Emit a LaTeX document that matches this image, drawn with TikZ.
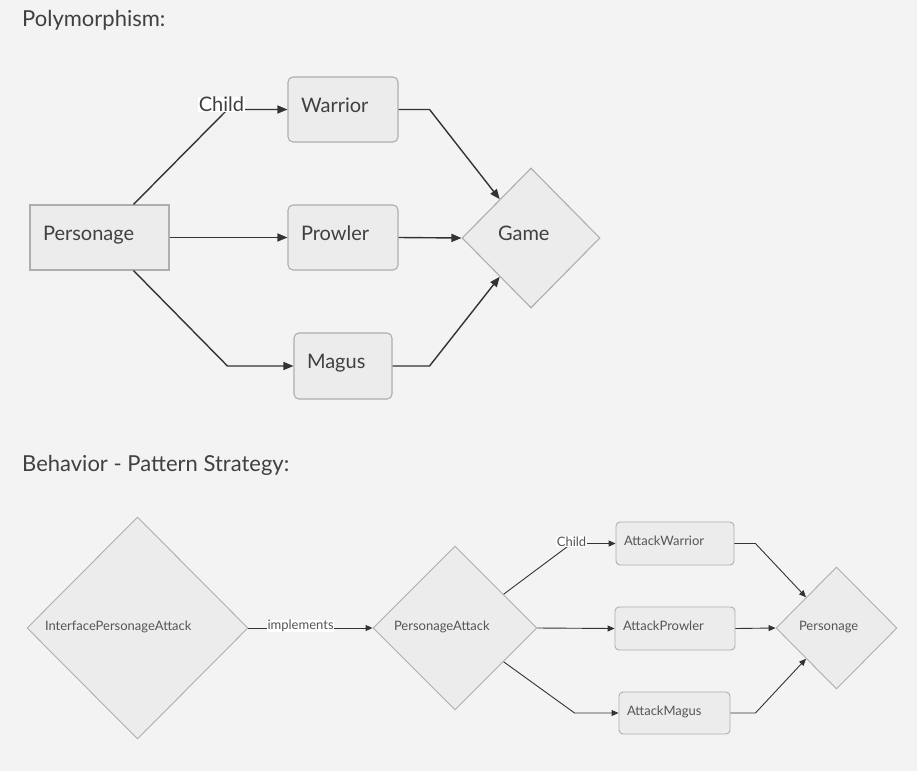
\documentclass[tikz,border=0pt]{standalone}
\usepackage{fontspec}
\setmainfont{Lato}
\usetikzlibrary{shapes.geometric,arrows.meta,calc}

\begin{document}
\begin{tikzpicture}[x=1pt, y=-1pt,
  title/.style={anchor=west, inner sep=0pt, text=txt, font=\fontsize{22}{26}\selectfont},
  bigbox/.style={draw=boxline, fill=boxfill, line width=1.1pt, rounded corners=5pt, inner xsep=13pt, inner ysep=0pt, align=left, text=txt, text depth=9pt, font=\fontsize{20}{24}\selectfont},
  bigdia/.style={diamond, draw=boxline, fill=boxfill, line width=1.1pt, inner sep=0pt, align=left, text=txt, text depth=9pt, font=\fontsize{20}{24}\selectfont},
  smallbox/.style={draw=boxline, fill=boxfill, line width=0.9pt, rounded corners=4pt, inner xsep=8pt, inner ysep=0pt, align=left, text=txt2, text depth=5pt, font=\fontsize{13}{15}\selectfont},
  smalldia/.style={diamond, draw=boxline, fill=boxfill, line width=0.9pt, inner sep=0pt, align=left, text=txt2, text depth=4pt, font=\fontsize{13}{15}\selectfont},
  bigarr/.style={draw=edge, line width=1.4pt, -{Triangle[length=10pt,width=8pt]}},
  smallarr/.style={draw=edge, line width=0.9pt, -{Triangle[length=7pt,width=6pt]}},
  biglbl/.style={fill=white, inner sep=0.5pt, text=txt, font=\fontsize{20}{24}\selectfont},
  smalllbl/.style={fill=white, inner sep=0.5pt, text=txt2, font=\fontsize{13}{15}\selectfont}
]
\definecolor{bg}{HTML}{F3F3F3}
\definecolor{boxfill}{HTML}{ECECEC}
\definecolor{boxline}{HTML}{AEAEAE}
\definecolor{edge}{HTML}{333333}
\definecolor{txt}{HTML}{404040}
\definecolor{txt2}{HTML}{555555}

\fill [bg] (0,0) rectangle (917,771);

\node [title] (t1) at (22,20) {Polymorphism:};
\node [bigbox, rounded corners=0pt, text width=113pt, minimum height=65pt] (pers) at (99.5,237.5) {Personage};
\node [bigbox, text width=84pt, minimum height=65pt] (warrior) at (343,109.5) {Warrior};
\node [bigbox, text width=84pt, minimum height=65pt] (prowler) at (343,237.5) {Prowler};
\node [bigbox, text width=72pt, minimum height=66pt] (magus) at (343,366) {Magus};
\node [bigdia, text width=66pt, minimum width=138pt, minimum height=140pt] (game) at (531,238) {Game};

\draw [bigarr] ([xshift=34pt]pers.north) -- ([xshift=-60pt]warrior.west) node [biglbl, xshift=-6pt, yshift=5pt] {Child} -- (warrior.west);
\draw [bigarr] (pers.east) -- (prowler.west);
\draw [bigarr] ([xshift=34pt]pers.south) -- ([xshift=-66pt]magus.west) -- (magus.west);
\draw [bigarr] (warrior.east) -- ([xshift=31pt]warrior.east) -- ($(game.west)!0.55!(game.north)$);
\draw [bigarr] (prowler.east) -- (game.west);
\draw [bigarr] (magus.east) -- ([xshift=37pt]magus.east) -- ($(game.west)!0.55!(game.south)$);

\node [title] (t2) at (22,465) {Behavior - Pattern Strategy:};
\node [smalldia, text width=185pt, minimum width=221pt, minimum height=222pt] (ipa) at (137.5,628) {InterfacePersonageAttack};
\node [smalldia, text width=122pt, minimum width=164pt, minimum height=164pt] (pa) at (455,628) {PersonageAttack};
\node [smallbox, text width=102pt, minimum height=43pt] (aw) at (675,543.5) {AttackWarrior};
\node [smallbox, text width=104pt, minimum height=43pt] (ap) at (675,628.5) {AttackProwler};
\node [smallbox, text width=95pt, minimum height=42pt] (am) at (674.5,713) {AttackMagus};
\node [smalldia, text width=75pt, minimum width=121pt, minimum height=122pt] (pe) at (836.5,628) {Personage};

\draw [smallarr] (ipa.east) -- node [smalllbl, pos=0.42, yshift=2pt] {implements} (pa.west);
\draw [smallarr] ($(pa.east)!0.41!(pa.north)$) -- ([xshift=-44pt]aw.west) node [smalllbl, yshift=2pt] {Child} -- (aw.west);
\draw [smallarr] (pa.east) -- (ap.west);
\draw [smallarr] ($(pa.east)!0.41!(pa.south)$) -- ([xshift=-44pt]am.west) -- (am.west);
\draw [smallarr] (aw.east) -- ([xshift=21pt]aw.east) -- ($(pe.west)!0.5!(pe.north)$);
\draw [smallarr] (ap.east) -- (pe.west);
\draw [smallarr] (am.east) -- ([xshift=25pt]am.east) -- ($(pe.west)!0.5!(pe.south)$);
\end{tikzpicture}
\end{document}
